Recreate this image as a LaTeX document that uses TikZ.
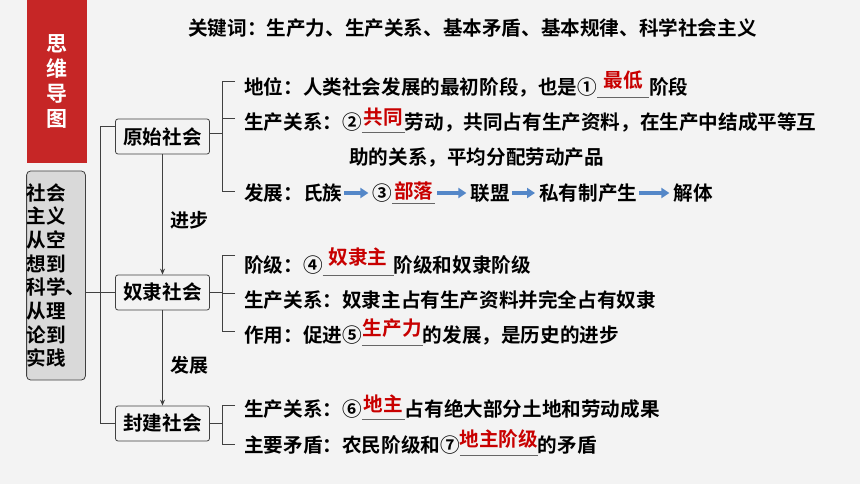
\documentclass[tikz,border=0pt]{standalone}
\usepackage{fontspec}
\setmainfont{Noto Sans CJK SC Bold}
\usepackage{tikz}
\usetikzlibrary{positioning,calc,arrows.meta}
\definecolor{bgGrey}{RGB}{243,243,243}
\definecolor{titleRed}{RGB}{198,38,38}
\definecolor{ansRed}{RGB}{200,0,0}
\definecolor{lineGrey}{RGB}{64,64,64}
\definecolor{arrowBlue}{RGB}{84,135,200}
\newcommand{\fillin}[3]{\makebox[#1][l]{\rlap{\color{lineGrey!80}\rule[-3.2pt]{#1}{0.9pt}}\makebox[#1]{\raisebox{#2}{\color{ansRed}#3}}}}
\tikzset{
    txt/.style={anchor=west, inner sep=0pt, text height=17pt, text depth=2.5pt, font=\fontsize{19.6pt}{23.7pt}\selectfont},
    stage/.style={draw=lineGrey, rounded corners=2.5pt, thick, minimum width=94pt, minimum height=35pt, inner sep=0pt, font=\fontsize{19.6pt}{23.7pt}\selectfont},
    branch/.style={draw=lineGrey, line width=0.8pt},
    flow/.style={draw=arrowBlue, line width=3.6pt, -{Triangle[length=8pt,width=10pt]}, shorten <=2pt, shorten >=4pt},
    step arrow/.style={draw=lineGrey, line width=0.8pt, -{Stealth[length=6pt,width=5pt]}}
}
\begin{document}
\begin{tikzpicture}[x=1pt, y=-1pt]
    \useasboundingbox[fill=bgGrey] (0,0) rectangle (860,484);

    % left title blocks
    \node[fill=titleRed, minimum width=60pt, minimum height=163pt, inner sep=0pt, text=white, align=center,
          font=\fontsize{21pt}{25pt}\selectfont] (mindmap) at (57,81.5) {思\\维\\导\\图};
    \node[draw=lineGrey, fill=black!15, rounded corners=4pt, thick, minimum width=58pt, minimum height=209pt, inner sep=0pt,
          align=left, font=\fontsize{19.6pt}{23.7pt}\selectfont] (topic) at (56,275.5)
          {社会\\主义\\从空\\想到\\科学、\\从理\\论到\\实践};

    \node[txt, anchor=west] (keywords) at (188,28) {关键词：生产力、生产关系、基本矛盾、基本规律、科学社会主义};

    % stages
    \node[stage] (yuanshi) at (162.5,136.5) {原始社会};
    \node[stage] (nuli) at (162.5,292.5) {奴隶社会};
    \node[stage] (fengjian) at (162.5,423.5) {封建社会};

    \draw[branch] ([yshift=10pt]yuanshi.west) -- ++(-15,0) |- (fengjian.west);
    \draw[branch] (topic.east |- nuli.west) -- (nuli.west);
    \draw[step arrow] (yuanshi.south) -- (nuli.north) node[midway, right=4pt, yshift=-6pt, font=\fontsize{19pt}{20pt}\selectfont] (jinbu) {进步};
    \draw[step arrow] (nuli.south) -- (fengjian.north) node[midway, right=4pt, yshift=-7pt, font=\fontsize{19pt}{20pt}\selectfont] (fazhan) {发展};

    % primitive society
    \node[txt] (diwei) at (244,87) {地位：人类社会发展的最初阶段，也是①\fillin{52pt}{7pt}{最低}阶段};
    \node[txt] (guanxiA) at (244,122) {生产关系：②\fillin{43pt}{5pt}{共同}劳动，共同占有生产资料，在生产中结成平等互};
    \node[txt] (guanxiB) at (349,157) {助的关系，平均分配劳动产品};
    \node[txt] (shizu) at (244,193) {发展：氏族};
    \node[txt, right=30pt of shizu] (buluo) {③\fillin{43pt}{1.5pt}{部落}};
    \node[txt, right=35pt of buluo] (lianmeng) {联盟};
    \node[txt, right=29pt of lianmeng] (siyou) {私有制产生};
    \node[txt, right=36pt of siyou] (jieti) {解体};
    \draw[flow] (shizu) -- (buluo);
    \draw[flow] (buluo) -- (lianmeng);
    \draw[flow] (lianmeng) -- (siyou);
    \draw[flow] (siyou) -- (jieti);

    \draw[branch] (yuanshi.east) ++(0,-3) -- ++(13,0);
    \draw[branch] ([xshift=-9pt,yshift=6pt]diwei.west) -- ++(-13,0) |- ([xshift=-9pt,yshift=2pt]shizu.west);
    \draw[branch] ([xshift=-9pt,yshift=4pt]guanxiA.west) -- ++(-13,0);

    % slave society
    \node[txt] (jieji) at (244,265) {阶级：④\fillin{71pt}{8pt}{奴隶主}阶级和奴隶阶级};
    \node[txt] (guanxiC) at (244,300) {生产关系：奴隶主占有生产资料并完全占有奴隶};
    \node[txt] (zuoyong) at (244,335) {作用：促进⑤\fillin{61pt}{7pt}{生产力}的发展，是历史的进步};

    \draw[branch] (nuli.east) -- ++(13,0);
    \draw[branch] ([xshift=-9pt,yshift=10pt]jieji.west) -- ++(-13,0) |- ([xshift=-9pt,yshift=4pt]zuoyong.west);
    \draw[branch] ([xshift=-9pt,yshift=7pt]guanxiC.west) -- ++(-13,0);

    % feudal society
    \node[txt] (guanxiD) at (244,409) {生产关系：⑥\fillin{43pt}{5pt}{地主}占有绝大部分土地和劳动成果};
    \node[txt] (maodun) at (244,445) {主要矛盾：农民阶级和⑦\fillin{78pt}{6pt}{地主阶级}的矛盾};

    \draw[branch] (fengjian.east) -- ++(13,0);
    \draw[branch] ([xshift=-9pt,yshift=4pt]guanxiD.west) -- ++(-13,0) |- ([xshift=-9pt,yshift=1pt]maodun.west);
\end{tikzpicture}
\end{document}
